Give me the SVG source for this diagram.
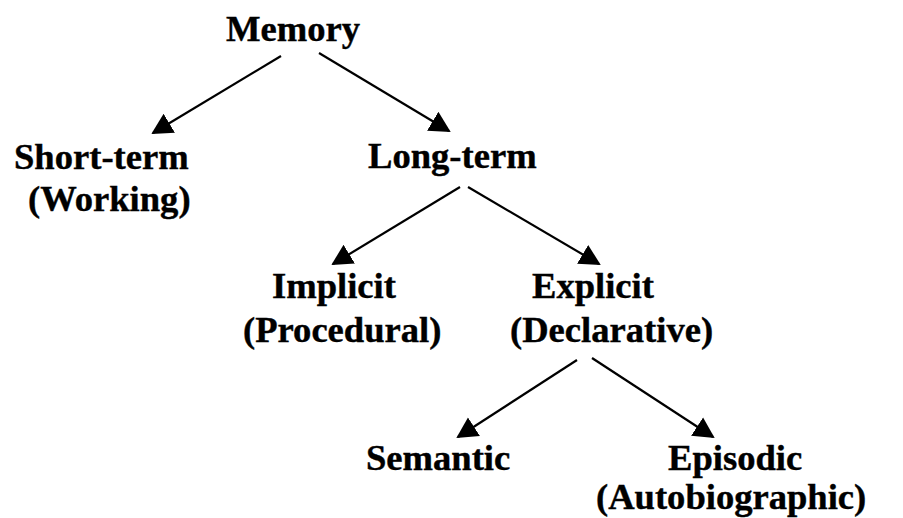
<svg xmlns="http://www.w3.org/2000/svg" width="903" height="518" viewBox="0 0 903 518">
<style>
text{font-family:"Liberation Serif","Times New Roman",serif;font-weight:bold;font-size:36.6px;fill:#000;stroke:#000;stroke-width:0.4px}
.c line{stroke:#000;stroke-width:2.2;fill:none}
</style>
<defs>
<marker id="ah" markerUnits="userSpaceOnUse" markerWidth="22" markerHeight="24" viewBox="0 0 22 24" refX="19" refY="12" orient="auto">
<path d="M0,1 L21,12 L0,23 z" fill="#000"/>
</marker>
</defs>
<rect width="903" height="518" fill="#fff"/>
<g class="c" id="connectors">
<line x1="281" y1="56" x2="153" y2="133" marker-end="url(#ah)"/>
<line x1="319" y1="53" x2="449" y2="131" marker-end="url(#ah)"/>
<line x1="460" y1="187" x2="333" y2="264" marker-end="url(#ah)"/>
<line x1="468" y1="187" x2="599" y2="264" marker-end="url(#ah)"/>
<line x1="577" y1="360" x2="458" y2="437" marker-end="url(#ah)"/>
<line x1="592" y1="358" x2="713" y2="437" marker-end="url(#ah)"/>
</g>
<g id="memory"><text x="226" y="41">Memory</text></g>
<g id="short-term"><text x="14" y="169">Short-term</text><text x="28" y="211">(Working)</text></g>
<g id="long-term"><text x="368" y="168">Long-term</text></g>
<g id="implicit"><text x="272" y="298">Implicit</text><text x="243" y="342">(Procedural)</text></g>
<g id="explicit"><text x="532" y="298">Explicit</text><text x="510" y="342">(Declarative)</text></g>
<g id="semantic"><text x="366" y="470">Semantic</text></g>
<g id="episodic"><text x="668" y="470">Episodic</text><text x="596" y="509">(Autobiographic)</text></g>
</svg>
